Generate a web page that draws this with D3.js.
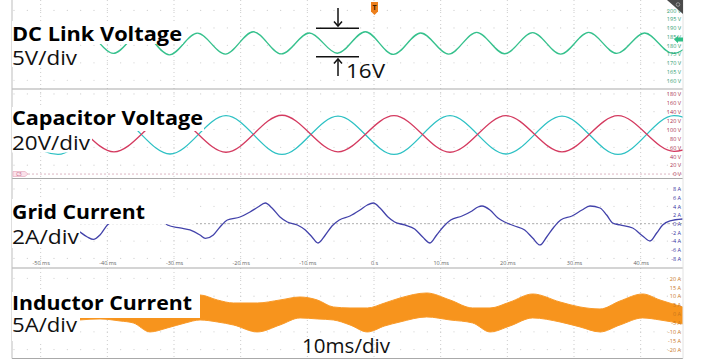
<!DOCTYPE html>
<html>
<head>
<meta charset="utf-8">
<script src="https://cdn.jsdelivr.net/npm/d3@7"></script>
<style>
body { margin: 0; background: #fff; }
svg { display: block; }
text { font-family: "Open Sans", "Noto Sans", sans-serif; }
.scale text { font-size: 5.5px; }
</style>
</head>
<body>
<svg></svg>
<script>
let width = 702;
let height = 362;

// time axis (ms)
let timeTicks = [-50, -40, -30, -20, -10, 0, 10, 20, 30, 40];
let timeLabels = ['-50 ms', '-40 ms', '-30 ms', '-20 ms', '-10 ms', '0 s', '10 ms', '20 ms', '30 ms', '40 ms'];

// right-hand scale labels of each slice
let dcTicks = [200, 195, 190, 185, 180, 175, 170, 165, 160];
let capTicks = [180, 160, 140, 120, 100, 80, 60, 40, 20, 0];
let gridTicks = [8, 6, 4, 2, 0, -2, -4, -6, -8];
let indTicks = [20, 15, 10, 5, 0, -5, -10, -15, -20];

let titles = ['DC Link Voltage', 'Capacitor Voltage', 'Grid Current', 'Inductor Current'];
let perDiv = ['5V/div', '20V/div', '2A/div', '5A/div'];

// DC link ripple, turning points (ms, V)
let dcTime = [-55.9, -51.7, -47.5, -43.3, -39.1, -34.9, -30.7, -26.5, -22.3, -18.1, -13.9, -9.7, -5.5,
  -1.3, 2.9, 7.0, 11.2, 15.4, 19.6, 23.8, 28.0, 32.2, 36.4, 40.6, 44.8, 49.0];
let dcVolt = [175.0, 187.4, 174.8, 187.5, 175.4, 187.3, 174.6, 187.0, 175.0, 187.8, 175.1, 187.1, 175.5,
  187.8, 174.8, 187.1, 175.0, 187.5, 175.2, 187.3, 175.0, 187.4, 175.4, 187.1, 175.4, 187.3];

// capacitor voltages, turning points (ms, V)
let capTime = [-55.8, -47.4, -39.0, -30.6, -22.2, -13.8, -5.4, 3.0, 11.4, 19.8, 28.2, 36.6, 45.0, 53.4];
let capRed = [49, 131, 50, 131, 49, 132, 50, 131, 49, 131, 50, 131, 51, 131];
let capCyan = [130, 44, 130, 45, 131, 44, 130, 44, 131, 45, 130, 44, 131, 44];

// grid current (ms, A)
let gridTime = [-54.3, -53.1, -51.6, -50.1, -48.6, -47.1, -45.6, -44.1, -43.0, -42.1, -41.1, -40.0, -39.0,
  -37.5, -36.0, -34.3, -32.8, -31.6, -31.0, -29.1, -27.6, -26.1, -25.3, -24.1, -23.1, -22.0, -20.1,
  -18.6, -17.4, -16.3, -15.3, -14.1, -13.0, -11.5, -10.3, -9.3, -8.4, -7.3, -6.3, -5.2, -3.6, -2.1,
  -1.0, -0.1, 0.9, 2.1, 3.1, 4.6, 6.1, 7.3, 8.4, 9.4, 10.5, 11.5, 13.2, 14.7, 15.6, 16.2, 17.4, 18.6,
  19.6, 21.1, 22.6, 23.8, 24.9, 25.9, 27.0, 28.0, 29.7, 31.2, 32.4, 33.9, 34.9, 35.8, 36.9, 38.8,
  40.3, 41.4, 42.4, 43.3, 44.4, 46.3];
let gridAmp = [1.54, 2.46, 3.84, 4.53, 3.15, 0.39, -0.07, -1.91, -3.06, -3.63, -2.60, -0.30, 0.85,
  1.54, 2.92, 4.76, 3.15, 0.85, -0.30, -0.99, -1.45, -2.60, -3.40, -2.60, -0.76, 0.85, 1.54,
  2.69, 3.84, 4.76, 3.61, 1.54, 0.39, -0.30, -1.45, -3.06, -4.44, -2.60, -0.53, 0.85, 1.77, 3.15,
  4.30, 4.76, 3.61, 1.54, 0.39, -0.30, -1.22, -3.06, -4.44, -2.60, -0.53, 0.85, 1.77, 2.92, 3.84, 4.07, 3.15, 1.31,
  0.39, -0.53, -1.45, -3.29, -4.90, -3.06, -0.76, 0.85, 1.77, 3.15, 4.07, 3.61, 2.00, 0.16, -0.30, -0.99,
  -2.83, -3.98, -2.14, -0.30, 0.62, 1.08];

// inductor current ripple envelope (ms, A)
let indTime = [-54.3, -50.1, -47.1, -44.1, -41.1, -38.1, -36.1, -33.6, -31.0, -28.3, -26.1, -23.5, -21.1,
  -17.5, -14.1, -11.1, -8.5, -6.1, -3.6, -1.0, 1.6, 3.9, 7.9, 11.4, 14.8, 17.4, 20.4, 23.8, 27.9,
  30.9, 33.9, 36.9, 40.3, 42.9, 46.3];
let indHigh = [5.05, 4.49, 6.73, 8.97, 10.10, 7.85, 6.17, 5.05, 5.61, 8.41, 10.66, 7.85, 6.17,
  6.17, 7.85, 9.53, 7.85, 3.93, 3.37, 3.37, 6.17, 8.97, 11.78, 7.85, 3.37, 3.37, 6.73, 11.22, 6.73,
  3.93, 2.80, 7.29, 11.22, 7.85, 3.93];
let indLow = [-6.17, -9.53, -6.73, -3.37, -2.80, -3.93, -5.05, -10.10, -7.85, -5.05, -3.37, -4.49, -6.17,
  -10.10, -6.17, -2.24, -2.80, -3.37, -6.17, -10.10, -6.73, -4.49, -1.68, -3.37, -5.05, -10.10, -6.73, -2.24, -4.49,
  -7.29, -10.10, -6.17, -2.24, -3.37, -5.61];

let svg = d3.select('svg')
    .attr('width', width)
    .attr('height', height);

let left = 12, right = 683;
let x = d3.scaleLinear().domain([-54.3, 46.35]).range([left, right]);

let yDc = d3.scaleLinear().domain([155, 206]).range([89, 0]);
let yCap = d3.scaleLinear().domain([-10, 191]).range([178.5, 89]);
let yGrid = d3.scaleLinear().domain([-10.2, 10.4]).range([268, 178.5]);
let yInd = d3.scaleLinear().domain([-25, 25.8]).range([358.5, 268]);

let slices = [
    {y: yDc, ticks: dcTicks, unit: ' V', color: '#2f9e70', dots: [200, 190, 180, 170, 160]},
    {y: yCap, ticks: capTicks, unit: ' V', color: '#a8304e', dots: [180, 140, 100, 60, 20]},
    {y: yGrid, ticks: gridTicks, unit: ' A', color: '#3535a0', dots: [8, 4, 0, -4, -8]},
    {y: yInd, ticks: indTicks, unit: ' A', color: '#c8761c', dots: [20, 10, 0, -10, -20]}
];

// graticule
let grat = svg.append('g');
let minor = d3.range(-54, 47, 2);
slices.forEach(function (s, k) {
    let r = s.y.range();
    grat.append('clipPath').attr('id', 'clip' + k)
        .append('rect')
        .attr('x', left).attr('y', r[1])
        .attr('width', right - left).attr('height', r[0] - r[1]);
    s.dots.forEach(function (v) {
        grat.selectAll(null)
            .data(minor)
            .enter()
            .append('circle')
            .attr('cx', d => x(d))
            .attr('cy', s.y(v))
            .attr('r', 0.6)
            .attr('fill', '#cfcfcf');
    });
});
grat.selectAll('.vgrid')
    .data(timeTicks)
    .enter()
    .append('line')
    .attr('class', 'vgrid')
    .attr('x1', d => x(d)).attr('x2', d => x(d))
    .attr('y1', 0).attr('y2', 358.5)
    .attr('stroke', '#cdcdcd')
    .attr('stroke-dasharray', '1,3');

// reference lines
svg.append('line')
    .attr('x1', 28).attr('x2', right)
    .attr('y1', yCap(0)).attr('y2', yCap(0))
    .attr('stroke', '#dcb6c4')
    .attr('stroke-dasharray', '2,2');
svg.append('line')
    .attr('x1', left).attr('x2', right)
    .attr('y1', yGrid(0)).attr('y2', yGrid(0))
    .attr('stroke', '#b0b0b0')
    .attr('stroke-dasharray', '2,2');

function trace(k, xs, ys, yScale, color, curve) {
    let line = d3.line()
        .x((d, i) => x(xs[i]))
        .y((d, i) => yScale(ys[i]))
        .curve(curve);
    svg.append('path')
        .datum(xs)
        .attr('clip-path', 'url(#clip' + k + ')')
        .attr('d', line)
        .attr('fill', 'none')
        .attr('stroke', color)
        .attr('stroke-width', 1.3)
        .attr('stroke-linejoin', 'round');
}

trace(0, dcTime, dcVolt, yDc, '#36c18d', d3.curveMonotoneX);
trace(1, capTime, capCyan, yCap, '#2ec1c4', d3.curveMonotoneX);
trace(1, capTime, capRed, yCap, '#d43b60', d3.curveMonotoneX);
trace(2, gridTime, gridAmp, yGrid, '#4242aa', d3.curveMonotoneX);

let band = d3.area()
    .x((d, i) => x(indTime[i]))
    .y0((d, i) => yInd(indLow[i]))
    .y1((d, i) => yInd(indHigh[i]))
    .curve(d3.curveMonotoneX);
svg.append('path')
    .datum(indTime)
    .attr('clip-path', 'url(#clip3)')
    .attr('d', band)
    .attr('fill', '#f7941d')
    .attr('stroke', '#f89a2a')
    .attr('stroke-width', 1);

// slice borders
svg.selectAll('.sep')
    .data([89, 178.5, 268, 358.5])
    .enter()
    .append('line')
    .attr('x1', left).attr('x2', right)
    .attr('y1', d => d).attr('y2', d => d)
    .attr('stroke', '#a9a9a9')
    .attr('stroke-width', 1.2);
svg.append('line')
    .attr('x1', left).attr('x2', left)
    .attr('y1', 0).attr('y2', 358.5)
    .attr('stroke', '#bdbdbd');
svg.append('line')
    .attr('x1', right).attr('x2', right)
    .attr('y1', 0).attr('y2', 358.5)
    .attr('stroke', '#e2e2e2');

// right scale labels
slices.forEach(function (s) {
    let ax = svg.append('g')
        .attr('class', 'scale')
        .attr('transform', 'translate(681,0)')
        .call(d3.axisLeft(s.y).tickValues(s.ticks).tickSize(0).tickPadding(0)
            .tickFormat(d => d + s.unit));
    ax.select('.domain').remove();
    ax.selectAll('text').attr('fill', s.color);
});

// time labels
let tax = svg.append('g')
    .attr('class', 'scale')
    .attr('transform', 'translate(0,261.5)')
    .call(d3.axisBottom(x).tickValues(timeTicks).tickSize(0).tickPadding(0)
        .tickFormat((d, i) => timeLabels[i]));
tax.select('.domain').remove();
tax.selectAll('text').attr('fill', '#666');

// markers
svg.append('polygon')
    .attr('points', '667,0 683,0 683,14')
    .attr('fill', '#4a4a4a');
svg.append('circle').attr('cx', 678).attr('cy', 4.5).attr('r', 1.8)
    .attr('fill', 'none').attr('stroke', '#aaa').attr('stroke-width', 0.8);
svg.append('polygon')
    .attr('points', '674,39.5 678,35.8 678,37.6 683,37.6 683,41.4 678,41.4 678,43.2')
    .attr('fill', '#2fbf86');
svg.append('polygon')
    .attr('points', '371,2 378,2 378,11.5 374.5,15 371,11.5')
    .attr('fill', '#ec7f1c');
svg.append('text')
    .attr('x', 374.5).attr('y', 10)
    .attr('text-anchor', 'middle')
    .attr('font-size', 7).attr('font-weight', 'bold')
    .attr('fill', '#402000')
    .text('T');
svg.append('path')
    .attr('d', 'M13,171.5 H25 L28,174 L25,176.5 H13 Z')
    .attr('fill', '#fbe1ea')
    .attr('stroke', '#e3a0b6')
    .attr('stroke-width', 0.6);
svg.append('text')
    .attr('x', 19).attr('y', 175.6)
    .attr('text-anchor', 'middle')
    .attr('font-size', 4.5)
    .attr('fill', '#c05a7c')
    .text('C3');

// slice titles with white boxes
let titleBox = [[12, 21, 171, 23], [12, 107, 192, 24], [12, 199, 183, 25], [12, 292, 188, 26]];
let titleBase = [41, 125, 218.5, 310];
let titleLen = [170, 191, 133, 180];
let divBox = [[12, 44, 68, 23], [12, 131, 80, 21.5], [12, 224, 68, 24], [12, 318, 68, 23]];
let divBase = [65, 150, 243.5, 332];
let divLen = [65, 78, 67, 65];

titles.forEach(function (t, i) {
    let b = titleBox[i];
    svg.append('rect').attr('x', b[0]).attr('y', b[1]).attr('width', b[2]).attr('height', b[3]).attr('fill', '#fff');
    let d = divBox[i];
    svg.append('rect').attr('x', d[0]).attr('y', d[1]).attr('width', d[2]).attr('height', d[3]).attr('fill', '#fff');
    svg.append('text')
        .attr('x', 12).attr('y', titleBase[i])
        .attr('font-size', 19.5).attr('font-weight', 'bold')
        .attr('textLength', titleLen[i]).attr('lengthAdjust', 'spacingAndGlyphs')
        .attr('fill', '#000')
        .text(t);
    svg.append('text')
        .attr('x', 12).attr('y', divBase[i])
        .attr('font-size', 19.5)
        .attr('textLength', divLen[i]).attr('lengthAdjust', 'spacingAndGlyphs')
        .attr('fill', '#111')
        .text(perDiv[i]);
});

svg.append('text')
    .attr('x', 302).attr('y', 352.5)
    .attr('font-size', 19.5)
    .attr('textLength', 88).attr('lengthAdjust', 'spacingAndGlyphs')
    .attr('fill', '#111')
    .text('10ms/div');

// ripple annotation
let ann = svg.append('g').attr('stroke', '#111').attr('stroke-width', 1.5).attr('fill', 'none');
ann.append('line').attr('x1', 316).attr('x2', 359).attr('y1', 28.3).attr('y2', 28.3);
ann.append('line').attr('x1', 316).attr('x2', 359).attr('y1', 56.7).attr('y2', 56.7);
ann.append('line').attr('x1', 338).attr('x2', 338).attr('y1', 8).attr('y2', 26);
ann.append('path').attr('d', 'M334,21.5 L338,26 L342,21.5');
ann.append('line').attr('x1', 338).attr('x2', 338).attr('y1', 59).attr('y2', 76);
ann.append('path').attr('d', 'M334,63.5 L338,59 L342,63.5');
svg.append('text')
    .attr('x', 346).attr('y', 78)
    .attr('font-size', 19.5)
    .attr('textLength', 39).attr('lengthAdjust', 'spacingAndGlyphs')
    .attr('fill', '#111')
    .text('16V');
</script>
</body>
</html>
